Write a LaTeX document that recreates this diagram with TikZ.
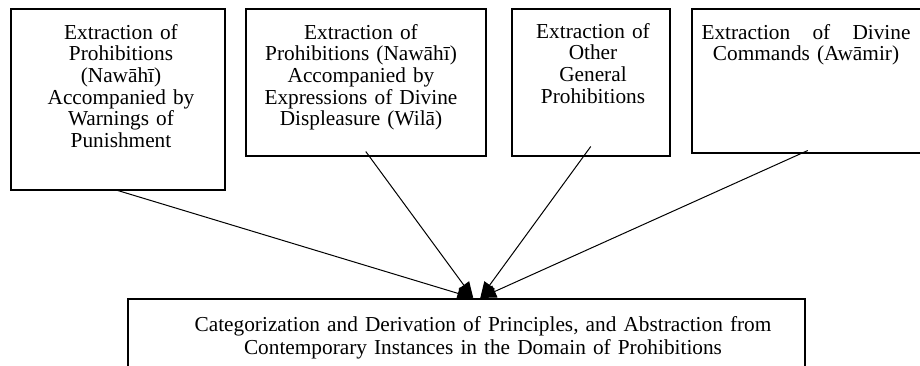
\documentclass[tikz,border=0pt]{standalone}
\usepackage{fontspec}
\setmainfont{Liberation Serif}
\usetikzlibrary{positioning,arrows.meta,calc}

\tikzset{
    srcbox/.style={draw, line width=1.5pt, inner sep=0pt, anchor=north west},
    boxtext/.style={anchor=base, align=center, inner sep=0pt, text width=212pt,
        font=\fontsize{21.3}{21.7}\selectfont},
    link/.style={line width=1pt, -{Triangle[length=16pt,width=13pt]}}
}

\begin{document}
\begin{tikzpicture}[x=1pt,y=-1pt]
    \clip (0,0) rectangle (920,365);

    % the four extraction boxes
    \node[srcbox, minimum width=214pt, minimum height=181pt] (b1) at (10,8) {};
    \node[srcbox, minimum width=240pt, minimum height=147pt] (b2) at (245,8) {};
    \node[srcbox, minimum width=158pt, minimum height=147pt] (b3) at (511,8) {};
    \node[srcbox, minimum width=232pt, minimum height=144pt] (b4) at (691,8) {};

    \node[boxtext] (t1) at (121,39) {Extraction of\\Prohibitions\\(Nawāhī)\\Accompanied by\\Warnings of\\Punishment};
    \node[boxtext] (t2) at (361,39) {Extraction of\\Prohibitions (Nawāhī)\\Accompanied by\\Expressions of Divine\\Displeasure (Wilā)};
    \node[boxtext, text width=150pt] (t3) at (593,38) {Extraction of\\Other\\General\\Prohibitions};
    \node[boxtext, text width=209pt] (t4) at (806,39) {\makebox[209pt]{Extraction\hfill of\hfill Divine}\\Commands (Awāmir)};

    % target box
    \node[srcbox, minimum width=677pt, minimum height=110pt] (bot) at (127,298) {};
    \node[boxtext, text width=640pt, font=\fontsize{21.3}{23}\selectfont] (t5) at (483,331)
        {Categorization and Derivation of Principles, and Abstraction from\\Contemporary Instances in the Domain of Prohibitions};

    \coordinate (tipL) at ($(bot.north)+(7,0)$);
    \coordinate (tipR) at ($(bot.north)+(14,0)$);

    \draw[link] (b1.south) -- (tipL);
    \draw[link] ([yshift=5pt]b2.south) -- (tipL);
    \draw[link] ([yshift=10pt]b3.south) -- (tipR);
    \draw[link] ([yshift=3pt]b4.south) -- (tipR);
\end{tikzpicture}
\end{document}
